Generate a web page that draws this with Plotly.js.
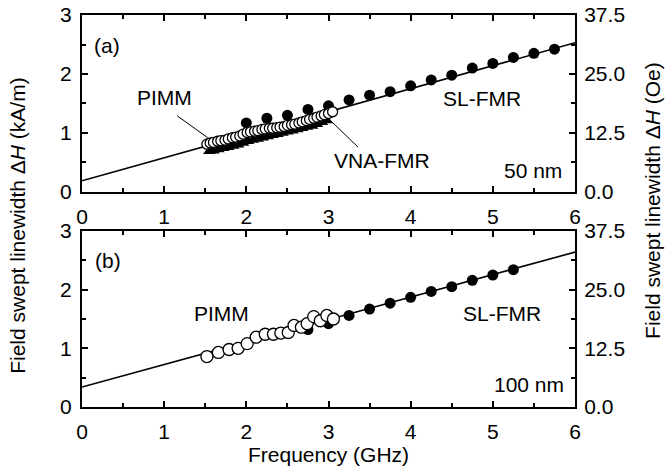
<!DOCTYPE html>
<html>
<head>
<meta charset="utf-8">
<script src="https://cdn.plot.ly/plotly-3.0.1.min.js"></script>
<style>html,body{margin:0;padding:0;background:#fff;}#chart{width:665px;height:472px;}</style>
</head>
<body>
<div id="chart"></div>
<script>
// ---------- Panel (a): 50 nm ----------
const fitA_f = [0, 6];
const fitA_v = [0.19, 2.53];

const vnaA_f = [1.55,1.60,1.66,1.72,1.78,1.84,1.90,1.96,2.02,2.08,2.14,2.20,2.26,2.32,2.38,2.44,2.50,2.56,2.62,2.68,2.74,2.80,2.86,2.92,2.98];
const vnaA_v = [0.69,0.70,0.72,0.74,0.76,0.78,0.80,0.83,0.86,0.88,0.90,0.92,0.94,0.96,0.98,1.00,1.02,1.04,1.06,1.08,1.10,1.12,1.15,1.18,1.21];

const slA_f = [2.00,2.25,2.50,2.75,3.00,3.25,3.50,3.75,4.00,4.25,4.50,4.75,5.00,5.25,5.50,5.75];
const slA_v = [1.17,1.25,1.30,1.40,1.46,1.56,1.64,1.70,1.80,1.90,1.98,2.10,2.18,2.28,2.35,2.42];

const pimmA_f = [1.52,1.56,1.60,1.65,1.69,1.74,1.78,1.83,1.87,1.92,1.96,2.01,2.05,2.10,2.14,2.19,2.23,2.28,2.32,2.37,2.41,2.46,2.50,2.55,2.59,2.64,2.68,2.73,2.77,2.82,2.86,2.91,2.95,3.00,3.05];
const pimmA_v = [0.81,0.83,0.84,0.86,0.87,0.88,0.90,0.92,0.93,0.95,0.98,1.01,1.02,1.03,1.04,1.06,1.07,1.08,1.08,1.09,1.10,1.11,1.13,1.14,1.15,1.17,1.19,1.21,1.23,1.25,1.27,1.29,1.31,1.33,1.36];

// ---------- Panel (b): 100 nm ----------
const fitB_f = [0, 6];
const fitB_v = [0.34, 2.64];

const slB_f = [2.75,3.00,3.25,3.50,3.75,4.00,4.25,4.50,4.75,5.00,5.25];
const slB_v = [1.32,1.42,1.56,1.67,1.77,1.87,1.97,2.05,2.16,2.25,2.34];

const pimmB_f = [1.52,1.66,1.79,1.90,2.01,2.12,2.23,2.33,2.42,2.51,2.58,2.67,2.74,2.82,2.90,2.98,3.06];
const pimmB_v = [0.86,0.93,0.98,1.00,1.08,1.19,1.24,1.24,1.26,1.27,1.39,1.36,1.42,1.54,1.47,1.56,1.50];

// ---------- Axis ticks ----------
const freqTicks = [0,1,2,3,4,5,6];
const kamTicks = [0,1,2,3];
const oeTicks = [0,12.5,25,37.5];
const oeTickText = ['0.0','12.5','25.0','37.5'];

const FONT = 'Liberation Sans, Arial, Helvetica, sans-serif';
const FS = 21;

function lineTrace(x, y, xa, ya) {
  return {x, y, xaxis: xa, yaxis: ya, type: 'scatter', mode: 'lines',
          line: {color: '#000', width: 1.6}, hoverinfo: 'skip', showlegend: false};
}
function filled(x, y, xa, ya, sym, size) {
  return {x, y, xaxis: xa, yaxis: ya, type: 'scatter', mode: 'markers',
          marker: {symbol: sym, size: size, color: '#000', line: {color: '#000', width: 0}},
          showlegend: false};
}
function openC(x, y, xa, ya, size) {
  return {x, y, xaxis: xa, yaxis: ya, type: 'scatter', mode: 'markers',
          marker: {symbol: 'circle', size: size, color: '#fff', line: {color: '#000', width: 1.3}},
          showlegend: false};
}

const traces = [
  lineTrace(fitA_f, fitA_v, 'x', 'y'),
  filled(vnaA_f, vnaA_v, 'x', 'y', 'triangle-up', 11),
  filled(slA_f, slA_v, 'x', 'y', 'circle', 11),
  openC(pimmA_f, pimmA_v, 'x', 'y', 10),
  lineTrace(fitB_f, fitB_v, 'x2', 'y2'),
  filled(slB_f, slB_v, 'x2', 'y2', 'circle', 11),
  openC(pimmB_f, pimmB_v, 'x2', 'y2', 12),
  {x: [null], y: [null], xaxis: 'x', yaxis: 'y3', type: 'scatter', mode: 'markers', showlegend: false, hoverinfo: 'skip'},
  {x: [null], y: [null], xaxis: 'x2', yaxis: 'y4', type: 'scatter', mode: 'markers', showlegend: false, hoverinfo: 'skip'}
];

const topDom = [0.5485, 1];
const botDom = [0, 0.449];

function xAx(anchor) {
  return {anchor: anchor, domain: [0, 1], range: [0, 6], tickvals: freqTicks,
          ticks: 'inside', ticklen: 6, tickwidth: 2, tickcolor: '#000',
          minor: {dtick: 0.5, ticks: 'inside', ticklen: 4, tickwidth: 2, tickcolor: '#000'},
          showline: true, linewidth: 2, linecolor: '#000', mirror: 'ticks',
          showgrid: false, zeroline: false, ticklabelstandoff: 5,
          tickfont: {family: FONT, size: FS, color: '#000'}};
}
function yAx(anchor, dom) {
  return {anchor: anchor, domain: dom, range: [0, 3], tickvals: kamTicks,
          ticks: 'inside', ticklen: 6, tickwidth: 2, tickcolor: '#000',
          minor: {dtick: 0.5, ticks: 'inside', ticklen: 4, tickwidth: 2, tickcolor: '#000'},
          showline: true, linewidth: 2, linecolor: '#000', mirror: true,
          showgrid: false, zeroline: false, ticklabelstandoff: 4,
          tickfont: {family: FONT, size: FS, color: '#000'}};
}
function yOe(anchor, over) {
  return {anchor: anchor, overlaying: over, side: 'right', range: [0, 37.5],
          tickvals: oeTicks, ticktext: oeTickText,
          ticks: 'inside', ticklen: 6, tickwidth: 2, tickcolor: '#000',
          minor: {dtick: 6.25, ticks: 'inside', ticklen: 4, tickwidth: 2, tickcolor: '#000'},
          showline: true, linewidth: 2, linecolor: '#000',
          showgrid: false, zeroline: false, ticklabelstandoff: 3,
          tickfont: {family: FONT, size: FS, color: '#000'}};
}

function txt(text, x, y, xr, yr) {
  return {text: text, x: x, y: y, xref: xr, yref: yr, showarrow: false,
          xanchor: 'center', yanchor: 'middle', font: {family: FONT, size: FS, color: '#000'}};
}

const layout = {
  width: 665, height: 472,
  margin: {l: 82, r: 90, t: 15, b: 65},
  paper_bgcolor: '#fff', plot_bgcolor: '#fff',
  showlegend: false,
  font: {family: FONT, size: FS, color: '#000'},
  xaxis: xAx('y'),
  yaxis: yAx('x', topDom),
  xaxis2: xAx('y2'),
  yaxis2: yAx('x2', botDom),
  yaxis3: yOe('x', 'y'),
  yaxis4: yOe('x2', 'y2'),
  annotations: [
    txt('(a)', 0.30, 2.49, 'x', 'y'),
    txt('PIMM', 1.0, 1.61, 'x', 'y'),
    txt('SL-FMR', 4.87, 1.59, 'x', 'y'),
    txt('VNA-FMR', 3.65, 0.53, 'x', 'y'),
    txt('50 nm', 5.49, 0.36, 'x', 'y'),
    txt('(b)', 0.32, 2.49, 'x2', 'y2'),
    txt('PIMM', 1.70, 1.59, 'x2', 'y2'),
    txt('SL-FMR', 5.11, 1.59, 'x2', 'y2'),
    txt('100 nm', 5.44, 0.39, 'x2', 'y2'),
    Object.assign(txt('Field swept linewidth Δ<i>H</i> (kA/m)', -0.13, 0.462, 'paper', 'paper'), {textangle: -90}),
    Object.assign(txt('Field swept linewidth Δ<i>H</i> (Oe)', 1.156, 0.528, 'paper', 'paper'), {textangle: -90}),
    txt('Frequency (GHz)', 0.5, -0.122, 'paper', 'paper')
  ],
  shapes: [
    {type: 'line', xref: 'x', yref: 'y', x0: 1.16, y0: 1.29, x1: 1.53, y1: 0.92, line: {color: '#000', width: 1}},
    {type: 'line', xref: 'x', yref: 'y', x0: 3.04, y0: 1.19, x1: 3.36, y1: 0.76, line: {color: '#000', width: 1}}
  ]
};

Plotly.newPlot('chart', traces, layout, {displayModeBar: false, staticPlot: true});
</script>
</body>
</html>
